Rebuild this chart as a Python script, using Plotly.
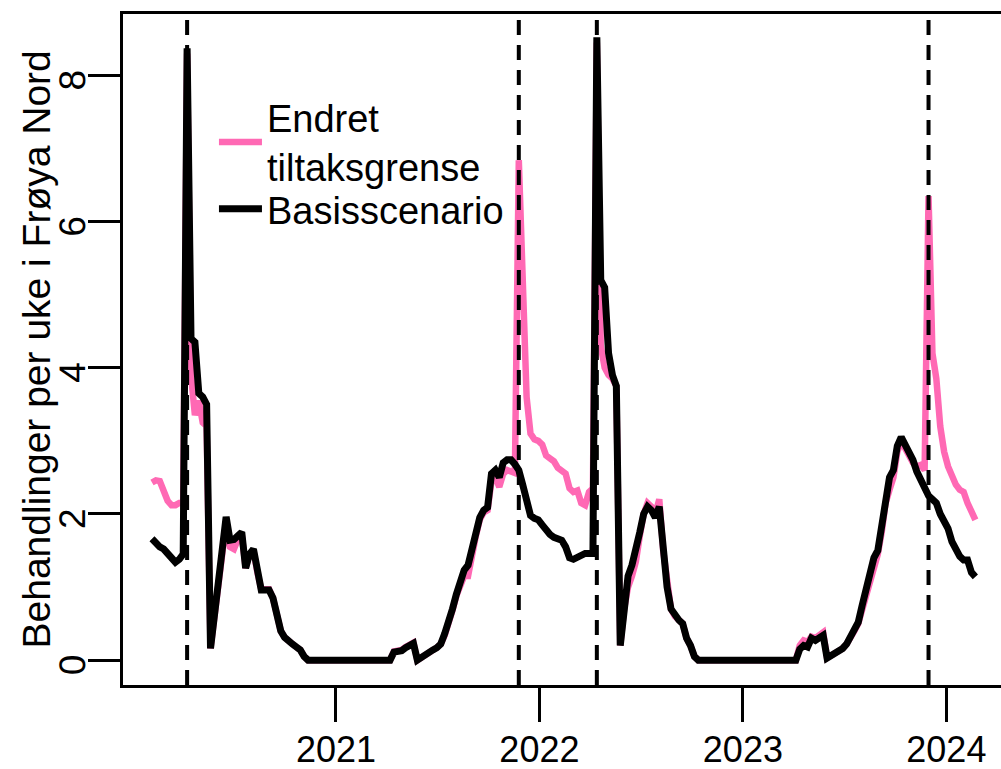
import pandas as pd
import plotly.graph_objects as go

# ---- data (weekly values) ----
start_date = "2020-02-06"

basis = [
    1.66, 1.60, 1.55, 1.52, 1.45, 1.40, 1.34, 1.38, 1.45, 8.37,
    4.40, 4.35, 3.65, 3.60, 3.50, 0.16, 0.60, 1.05, 1.50, 1.96,
    1.64, 1.65, 1.70, 1.75, 1.26, 1.45, 1.52, 1.20, 0.96, 0.96,
    0.96, 0.85, 0.60, 0.40, 0.31, 0.25, 0.22, 0.18, 0.14, 0.05,
    0, 0, 0, 0, 0, 0, 0, 0, 0, 0,
    0, 0, 0, 0, 0, 0, 0, 0, 0, 0,
    0, 0, 0.11, 0.11, 0.13, 0.17, 0.20, 0.23, 0.00, 0.04,
    0.08, 0.12, 0.14, 0.17, 0.22, 0.36, 0.50, 0.70, 0.90, 1.10,
    1.23, 1.30, 1.50, 1.75, 1.95, 2.05, 2.09, 2.55, 2.60, 2.50,
    2.70, 2.74, 2.74, 2.68, 2.60, 2.40, 2.15, 1.98, 1.94, 1.92,
    1.85, 1.78, 1.72, 1.68, 1.66, 1.64, 1.55, 1.40, 1.38, 1.41,
    1.44, 1.46, 1.46, 1.46, 8.52, 5.20, 5.10, 4.20, 3.90, 3.75,
    0.20, 0.80, 1.15, 1.30, 1.50, 1.75, 2.00, 2.10, 2.05, 1.95,
    2.10, 1.50, 1.00, 0.70, 0.60, 0.55, 0.50, 0.30, 0.20, 0.05,
    0, 0, 0, 0, 0, 0, 0, 0, 0, 0,
    0, 0, 0, 0, 0, 0, 0, 0, 0, 0,
    0, 0, 0, 0, 0, 0, 0.15, 0.20, 0.18, 0.30,
    0.27, 0.30, 0.34, 0.03, 0.06, 0.10, 0.13, 0.16, 0.22, 0.32,
    0.42, 0.52, 0.75, 1.00, 1.25, 1.40, 1.50, 1.85, 2.30, 2.50,
    2.60, 2.93, 3.05, 2.95, 2.80, 2.74, 2.58, 2.45, 2.33, 2.25,
    2.20, 2.15, 2.00, 1.90, 1.80, 1.62, 1.50, 1.42, 1.37, 1.37,
    1.20, 1.14,
]

endret = [
    2.43, 2.46, 2.45, 2.30, 2.18, 2.12, 2.12, 2.15, 2.15, 8.30,
    3.90, 3.35, 3.55, 3.25, 3.20, 0.16, 0.55, 1.00, 1.45, 1.90,
    1.55, 1.52, 1.65, 1.72, 1.26, 1.45, 1.50, 1.20, 0.97, 0.97,
    0.97, 0.85, 0.60, 0.40, 0.31, 0.25, 0.22, 0.18, 0.14, 0.05,
    0, 0, 0, 0, 0, 0, 0, 0, 0, 0,
    0, 0, 0, 0, 0, 0, 0, 0, 0, 0,
    0, 0, 0.12, 0.12, 0.14, 0.18, 0.21, 0.24, 0.00, 0.04,
    0.08, 0.12, 0.14, 0.17, 0.22, 0.34, 0.48, 0.68, 0.88, 1.05,
    1.15, 1.15, 1.45, 1.70, 1.92, 2.02, 2.05, 2.45, 2.50, 2.37,
    2.55, 2.60, 2.58, 2.56, 6.84, 4.90, 3.60, 3.10, 3.02, 3.00,
    2.95, 2.80, 2.75, 2.72, 2.63, 2.60, 2.55, 2.35, 2.30, 2.32,
    2.15, 2.12, 2.30, 2.35, 8.45, 4.30, 4.00, 3.90, 3.85, 3.75,
    0.20, 0.70, 1.00, 1.15, 1.35, 1.70, 2.00, 2.15, 2.10, 2.00,
    2.20, 1.50, 1.00, 0.70, 0.60, 0.55, 0.50, 0.30, 0.20, 0.05,
    0, 0, 0, 0, 0, 0, 0, 0, 0, 0,
    0, 0, 0, 0, 0, 0, 0, 0, 0, 0,
    0, 0, 0, 0, 0, 0, 0.20, 0.27, 0.25, 0.32,
    0.30, 0.35, 0.38, 0.03, 0.06, 0.10, 0.13, 0.16, 0.22, 0.30,
    0.40, 0.50, 0.70, 0.92, 1.09, 1.30, 1.45, 1.75, 2.15, 2.33,
    2.50, 2.85, 3.00, 2.90, 2.80, 2.70, 2.65, 2.67, 2.60, 6.35,
    4.20, 3.85, 3.20, 2.85, 2.65, 2.50, 2.40, 2.33, 2.30, 2.15,
    2.05, 1.92,
]

treatment_dates = ["2020-04-09", "2021-11-25", "2022-04-14", "2023-11-30"]
year_ticks = ["2021-01-01", "2022-01-01", "2023-01-01", "2024-01-01"]
year_labels = ["2021", "2022", "2023", "2024"]
y_ticks = [0, 2, 4, 6, 8]
y_title = "Behandlinger per uke i Frøya Nord"

dates = pd.date_range(start_date, periods=len(basis), freq="7D")

FONT = "Liberation Sans, Arial, sans-serif"

fig = go.Figure()
fig.add_trace(go.Scatter(
    x=dates, y=endret, mode="lines", name="Endret<br>tiltaksgrense",
    line=dict(color="#FF69B4", width=6.5), legend="legend",
))
fig.add_trace(go.Scatter(
    x=dates, y=basis, mode="lines", name="Basisscenario",
    line=dict(color="black", width=7), legend="legend2",
))

for d in treatment_dates:
    fig.add_shape(type="line", xref="x", yref="paper", x0=d, x1=d, y0=0, y1=1,
                  line=dict(color="black", width=4, dash="15px,10px"), layer="above")

# y-axis title as rotated text, centred on the plot area
fig.add_annotation(text=y_title, xref="paper", yref="paper",
                   x=(36 - 123) / 878, y=0.5, xanchor="center", yanchor="middle",
                   textangle=-90, showarrow=False,
                   font=dict(size=39, family=FONT, color="black"))

legend_font = dict(size=38, family=FONT, color="black")
fig.update_layout(
    template="none",
    width=1001, height=769,
    margin=dict(l=123, r=0, t=14, b=84),
    paper_bgcolor="white", plot_bgcolor="white",
    font=dict(family=FONT, color="black"),
    showlegend=True,
    legend=dict(x=0.1036, y=(685 - 142) / 671, xanchor="left", yanchor="middle",
                font=legend_font, bgcolor="rgba(0,0,0,0)", valign="middle",
                itemwidth=43),
    legend2=dict(x=0.1036, y=(685 - 209) / 671, xanchor="left", yanchor="middle",
                 font=legend_font, bgcolor="rgba(0,0,0,0)", valign="middle",
                 itemwidth=43),
)
fig.update_xaxes(
    type="date", range=["2019-12-16", "2024-04-08"], automargin=False,
    tickvals=year_ticks, ticktext=year_labels,
    ticks="outside", ticklen=34, tickwidth=3, tickcolor="black",
    ticklabelstandoff=-3,
    showline=True, linewidth=3, linecolor="black", mirror=True,
    showgrid=False, zeroline=False,
    tickfont=dict(size=36, family=FONT, color="black"),
)
fig.update_yaxes(
    range=[-0.34, 8.84], tickvals=y_ticks, automargin=False,
    ticks="outside", ticklen=32, tickwidth=3, tickcolor="black",
    ticklabelstandoff=14,
    showline=True, linewidth=3, linecolor="black", mirror=False,
    showgrid=False, zeroline=False, tickangle=-89.9,
    tickfont=dict(size=37, family=FONT, color="black"),
)

fig.write_html("out.html")
